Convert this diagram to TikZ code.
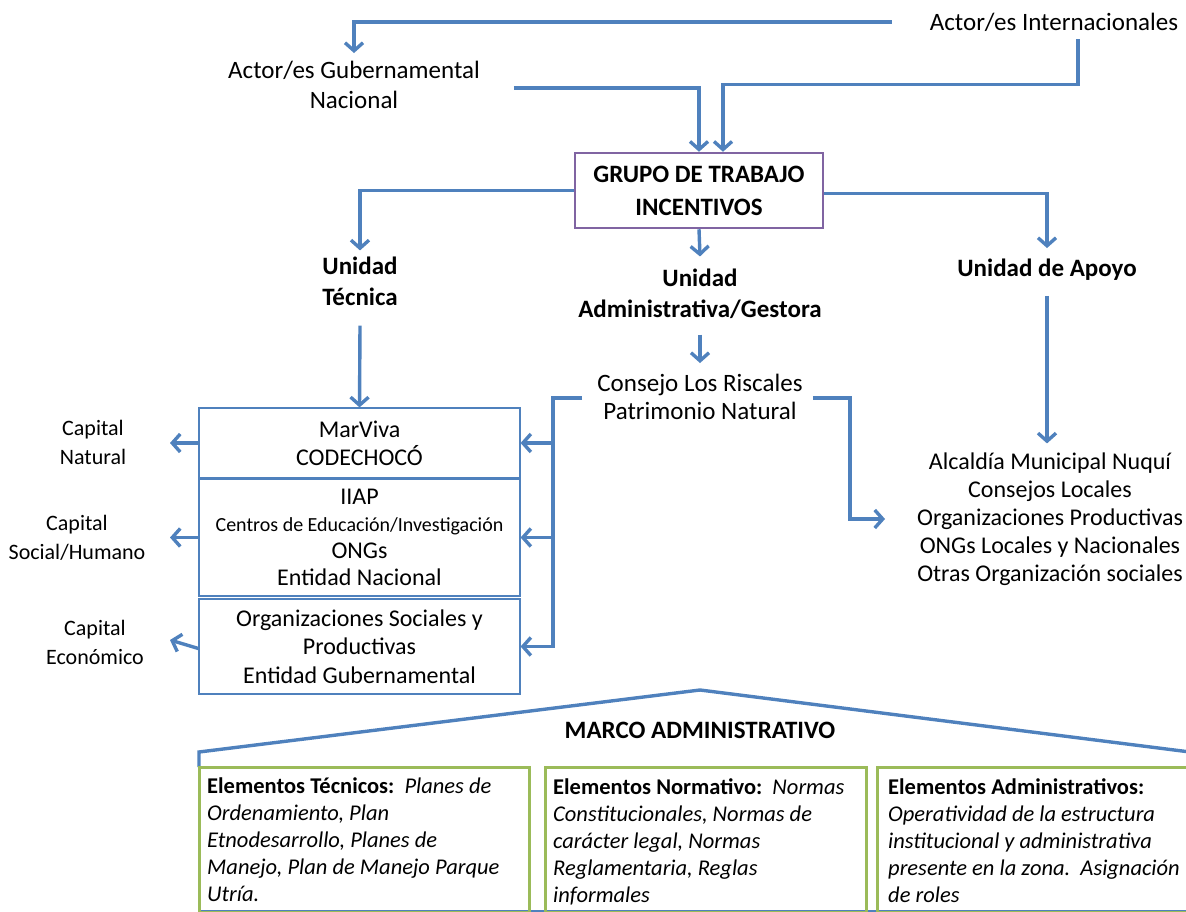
\documentclass[tikz,border=0pt]{standalone}
\usepackage{fontspec}
\setmainfont{Carlito}
\usetikzlibrary{arrows.meta}
\definecolor{lnblue}{HTML}{4F81BD}
\definecolor{grpurple}{HTML}{8064A2}
\definecolor{elgreen}{HTML}{9BBB59}
\begin{document}
\begin{tikzpicture}[x=1pt,y=-1pt,
  lbl/.style={font=\fontsize{25}{30}\selectfont, align=center, inner sep=0pt},
  lblb/.style={font=\bfseries\fontsize{25}{31}\selectfont, align=center, inner sep=0pt},
  capl/.style={font=\fontsize{22}{29}\selectfont, align=center, inner sep=0pt},
  stk/.style={draw=lnblue, line width=1.2pt, minimum width=321pt, align=center, inner sep=0pt,
              font=\fontsize{24}{27.5}\selectfont},
  conn/.style={draw=lnblue, line width=3.4pt, line join=miter,
               -{Straight Barb[length=8pt,width=18pt]}},
  roof/.style={draw=lnblue, line width=3.4pt, line join=miter},
  elbox/.style={draw=elgreen, line width=3pt},
  eltxt/.style={font=\itshape\fontsize{22.5}{27}\selectfont, align=left, inner sep=0pt, anchor=north west},
]
\useasboundingbox (0,0) rectangle (1186,912);

% actors and working group
\node[lbl] (intl) at (1054,22) {Actor/es Internacionales};
\node[lbl] (gub) at (354,85) {Actor/es Gubernamental\\Nacional};
\node[draw=grpurple, line width=2.5pt, minimum width=248pt, minimum height=75pt, align=center,
      inner sep=0pt, font=\bfseries\fontsize{25}{33}\selectfont] (grupo) at (699,190.5)
      {GRUPO DE TRABAJO\\INCENTIVOS};

% units
\node[lblb] (utec) at (360,281) {Unidad\\Técnica};
\node[lblb] (uadm) at (700,293.5) {Unidad\\Administrativa/Gestora};
\node[lblb] (uapo) at (1047,270) {Unidad de Apoyo};

\node[lbl, font=\fontsize{25}{28}\selectfont] (consejo) at (700,397) {Consejo Los Riscales\\Patrimonio Natural};

% technical unit stack
\node[stk, minimum height=70pt, font=\fontsize{24}{28}\selectfont] (b1) at (359.5,443) {MarViva\\CODECHOCÓ};
\node[stk, minimum height=117pt, font=\fontsize{24}{27}\selectfont] (b2) at (359.5,537.5)
  {IIAP\\{\fontsize{20}{27}\selectfont Centros de Educación/Investigación}\\ONGs\\Entidad Nacional};
\node[stk, minimum height=95pt, font=\fontsize{24}{28.5}\selectfont] (b3) at (359.5,646.5)
  {Organizaciones Sociales y\\Productivas\\Entidad Gubernamental};

\node[capl] (cap1) at (93,442.5) {Capital\\Natural};
\node[capl] (cap2) at (77,537.5) {Capital\\Social/Humano};
\node[capl] (cap3) at (95,642) {Capital\\Económico};

% support unit list
\node[lbl, font=\fontsize{24}{28}\selectfont] (lst) at (1050,519)
  {Alcaldía Municipal Nuquí\\Consejos Locales\\Organizaciones Productivas\\ONGs Locales y Nacionales\\Otras Organización sociales};

% connectors
\draw[conn] ([shift={(-38,0)}]intl.west) -| ([shift={(0,-8)}]gub.north);
\draw[conn] ([shift={(34,3)}]gub.east) -| (grupo.north);
\draw[conn] ([shift={(24,8)}]intl.south) |- ([shift={(24,-67)}]grupo.north) -- ([shift={(24,0)}]grupo.north);
\draw[conn] (grupo.west) -| ([shift={(0,-6)}]utec.north);
\draw[conn] ([shift={(0,3)}]grupo.east) -| ([shift={(0,-11)}]uapo.north);
\draw[conn] (grupo.south) -- ([shift={(0,-12)}]uadm.north);
\draw[conn] ([shift={(0,20)}]utec.south) -- (b1.north);
\draw[conn] ([shift={(0,16)}]uadm.south) -- ([shift={(0,-11)}]consejo.north);
\draw[conn] ([shift={(0,15)}]uapo.south) -- ([shift={(0,-9)}]uapo.south |- lst.north);

\coordinate (bus) at (553,0);
\draw[conn] ([shift={(-15,1)}]consejo.west) -| (bus |- b3.east) -- (b3.east);
\draw[conn] (bus |- b1.east) -- (b1.east);
\draw[conn] (bus |- b2.east) -- (b2.east);

\draw[conn] ([shift={(10,1)}]consejo.east) -| ([shift={(-200,0)}]lst.center) -- ([shift={(-165,0)}]lst.center);

\coordinate (captip) at (170,0);
\draw[conn] (b1.west) -- (captip |- b1.west);
\draw[conn] (b2.west) -- (captip |- b2.west);
\coordinate (captip3) at (170,640);
\draw[conn] ([shift={(0,2)}]b3.west) -- (captip3);

% administrative framework
\draw[roof] (199,767) -- (199,752) -- (700,690) -- (1190,752);
\draw[roof] (199,912) -- (1190,912);
\node[font=\bfseries\fontsize{25}{30}\selectfont, inner sep=0pt] (marco) at (700,730) {MARCO ADMINISTRATIVO};

\draw[elbox] (199,767) rectangle (529,912);
\draw[elbox] (545,767) rectangle (866,912);
\draw[elbox] (877,767) rectangle (1200,912);

\node[eltxt] (eltec) at (207,778)
  {{\upshape\bfseries Elementos Técnicos:}\ \ Planes de\\Ordenamiento, Plan\\Etnodesarrollo, Planes de\\Manejo, Plan de Manejo Parque\\Utría.};
\node[eltxt] (elnor) at (553,778)
  {{\upshape\bfseries Elementos Normativo:}\ \ Normas\\Constitucionales, Normas de\\carácter legal, Normas\\Reglamentaria, Reglas\\informales};
\node[eltxt] (eladm) at (888,778)
  {{\upshape\bfseries Elementos Administrativos:}\\Operatividad de la estructura\\institucional y administrativa\\presente en la zona.\ \ Asignación\\de roles};
\end{tikzpicture}
\end{document}
